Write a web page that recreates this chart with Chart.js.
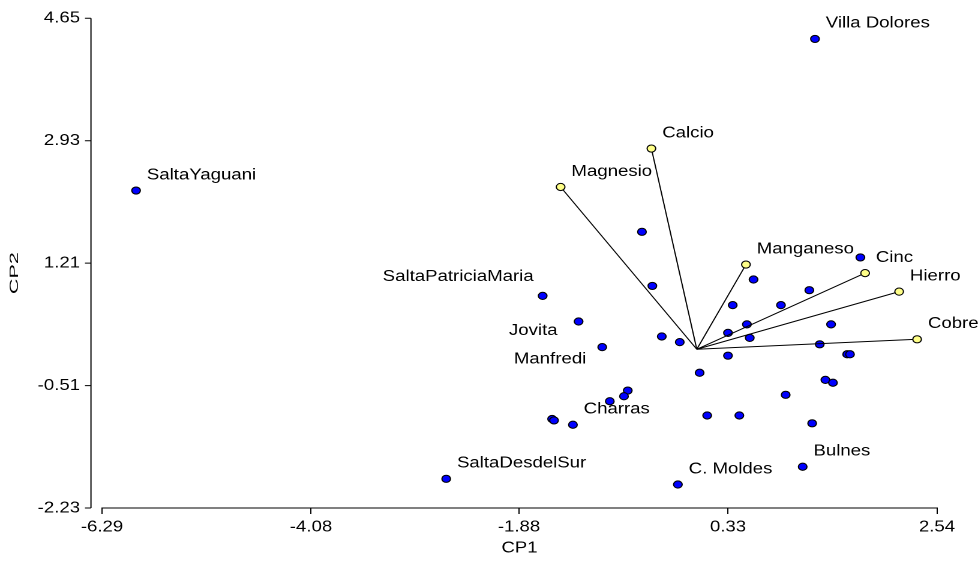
<!DOCTYPE html>
<html>
<head>
<meta charset="utf-8">
<script src="https://cdn.jsdelivr.net/npm/chart.js@4.4.1/dist/chart.umd.min.js"></script>
<style>
body{margin:0;background:#fff}
#c{display:block;width:978px !important;height:564px !important}
</style>
</head>
<body>
<canvas id="c" width="815" height="564" style="width:978px;height:564px"></canvas>
<script>
// tick values as printed on the axes
const xTicks = [-6.29, -4.08, -1.88, 0.33, 2.54]
const yTicks = [-2.23, -0.51, 1.21, 2.93, 4.65]

// observations (scores)
const obsNames = ['Villa Dolores','SaltaYaguani','SaltaPatriciaMaria','Jovita','Manfredi','Charras','SaltaDesdelSur','C. Moldes','Bulnes',
  '','','','','','','','','','','','','','','','','','','','','','','','','','','','','']
const obsX = [1.25,-5.93,-1.63,-1.25,-1.00,-1.31,-2.65,-0.20,1.12,
  -0.58,-0.47,-0.37,-0.18,0.03,0.60,0.38,0.89,1.19,1.73,0.53,0.33,0.56,1.42,1.30,1.59,1.62,0.33,1.36,1.44,0.94,1.22,0.11,0.45,-0.73,-0.77,-0.92,-1.53,-1.51]
const obsY = [4.36,2.23,0.75,0.39,0.03,-1.06,-1.82,-1.90,-1.65,
  1.65,0.89,0.18,0.10,-0.33,0.98,0.62,0.62,0.83,1.29,0.35,0.23,0.16,0.35,0.07,-0.07,-0.07,-0.09,-0.43,-0.47,-0.64,-1.04,-0.93,-0.93,-0.58,-0.66,-0.73,-0.98,-1.00]

// variables (loadings)
const varNames = ['Calcio','Magnesio','Manganeso','Cinc','Hierro','Cobre']
const varX = [-0.48,-1.44,0.52,1.78,2.14,2.33]
const varY = [2.82,2.28,1.19,1.07,0.81,0.14]

const FONT = "'Liberation Sans', Arial, sans-serif"
const FSIZE = 15.5

// labels that were moved off the default upper-right spot
const labelPlace = {
  'SaltaPatriciaMaria': [-7.5, -19, 'right'],
  'Jovita': [-17.5, 9, 'right'],
  'Manfredi': [-13.3, 12, 'right']
}

let datasets = [{
  data: obsX.map((x,i) => ({x:x, y:obsY[i]})),
  backgroundColor: '#0000ff',
  borderColor: '#000',
  borderWidth: 1,
  pointRadius: 3.6,
  order: 2
}]
varNames.forEach((n,i) => {
  datasets.push({
    data: [{x:0,y:0},{x:varX[i],y:varY[i]}],
    showLine: true,
    borderColor: '#000',
    borderWidth: 1,
    pointRadius: [0, 3.6],
    pointBackgroundColor: '#ffff88',
    pointBorderColor: '#000',
    pointBorderWidth: 1,
    order: 1
  })
})

function drawLabel(ctx, el, text){
  let p = labelPlace[text] || [9, -15.5, 'left']
  ctx.textAlign = p[2]
  ctx.fillText(text, el.x + p[0], el.y + p[1])
}

const biplotDeco = {
  id: 'biplotDeco',
  afterDatasetsDraw(chart){
    const ctx = chart.ctx
    ctx.save()
    ctx.font = `${FSIZE}px ${FONT}`
    ctx.fillStyle = '#000'
    ctx.textBaseline = 'middle'
    chart.getDatasetMeta(0).data.forEach((el,i) => {
      if (obsNames[i]) drawLabel(ctx, el, obsNames[i])
    })
    varNames.forEach((n,i) => {
      drawLabel(ctx, chart.getDatasetMeta(i+1).data[1], n)
    })
    ctx.restore()
  },
  afterDraw(chart){
    const ctx = chart.ctx, ys = chart.scales.y, area = chart.chartArea
    const ax = area.left - 9.2
    ctx.save()
    ctx.strokeStyle = '#000'
    ctx.lineWidth = 1
    ctx.beginPath()
    ctx.moveTo(ax, ys.getPixelForValue(yTicks[yTicks.length-1]))
    ctx.lineTo(ax, ys.getPixelForValue(yTicks[0]))
    yTicks.forEach(v => {
      let py = ys.getPixelForValue(v)
      ctx.moveTo(ax - 5, py)
      ctx.lineTo(ax, py)
    })
    ctx.stroke()
    // y axis title
    ctx.translate(12, (area.top + area.bottom)/2 + 10)
    ctx.rotate(-Math.PI/2)
    ctx.scale(1.39, 0.68)
    ctx.font = `${FSIZE}px ${FONT}`
    ctx.fillStyle = '#000'
    ctx.textAlign = 'center'
    ctx.textBaseline = 'middle'
    ctx.fillText('CP2', 0, 0)
    ctx.restore()
  }
}

new Chart(document.getElementById('c'), {
  type: 'scatter',
  data: {datasets: datasets},
  options: {
    responsive: false,
    devicePixelRatio: 2,
    animation: false,
    layout: {padding: {top: 18.3, right: 34.2, left: 0, bottom: 0}},
    plugins: {legend: {display: false}, tooltip: {enabled: false}},
    scales: {
      x: {
        type: 'linear',
        min: -6.29, max: 2.54,
        afterBuildTicks: s => { s.ticks = xTicks.map(v => ({value: v})) },
        afterFit: s => { s.height = 56; s.paddingLeft = 0; s.paddingRight = 0 },
        grid: {display: true, drawOnChartArea: false, drawTicks: true, tickLength: 6, color: '#000', lineWidth: 1},
        border: {display: true, color: '#000', width: 1},
        ticks: {color: '#000', padding: 4, maxRotation: 0, font: {family: FONT, size: FSIZE}, callback: v => v.toFixed(2)},
        title: {display: true, text: 'CP1', color: '#000', padding: {top: 0, bottom: 6.4}, font: {family: FONT, size: FSIZE}}
      },
      y: {
        type: 'linear',
        min: -2.23, max: 4.65,
        afterBuildTicks: s => { s.ticks = yTicks.map(v => ({value: v})) },
        afterFit: s => { s.width = 85; s.paddingTop = 0; s.paddingBottom = 0 },
        grid: {display: false, drawTicks: false},
        border: {display: false},
        ticks: {color: '#000', padding: 18.3, font: {family: FONT, size: FSIZE}, callback: v => v.toFixed(2)}
      }
    }
  },
  plugins: [biplotDeco]
})
</script>
</body>
</html>
